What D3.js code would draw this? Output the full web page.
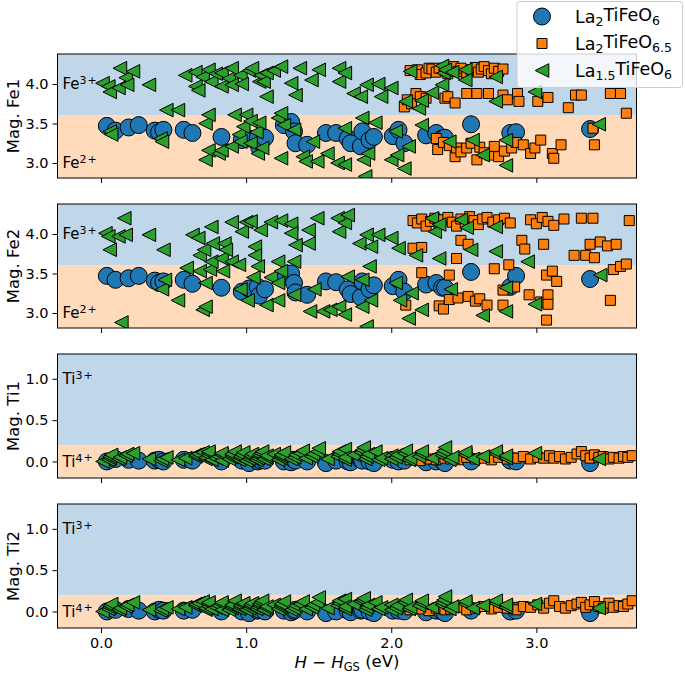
<!DOCTYPE html>
<html>
<head>
<meta charset="utf-8">
<script src="https://cdn.jsdelivr.net/npm/d3@7"></script>
<style>
  body { margin: 0; background: #fff; }
  svg { font-family: "DejaVu Sans", sans-serif; }
</style>
</head>
<body>
<div id="chart"></div>
<script>
// ---- data ----
var blueX = [0.04,0.10,0.19,0.26,0.37,0.40,0.43,0.57,0.63,0.83,0.97,1.02,1.08,1.09,1.13,1.26,1.31,1.33,1.34,1.42,1.55,1.62,1.70,1.72,1.79,1.80,1.85,1.88,2.01,2.05,2.09,2.24,2.31,2.35,2.37,2.55,2.82,2.86,3.37];
var blueFe1 = [3.47,3.41,3.45,3.48,3.41,3.39,3.42,3.42,3.38,3.33,3.29,3.31,3.31,3.20,3.32,3.48,3.52,3.40,3.25,3.23,3.38,3.38,3.31,3.25,3.21,3.40,3.29,3.33,3.34,3.42,3.25,3.35,3.38,3.31,3.32,3.49,3.38,3.39,3.43];
var blueFe2 = [3.47,3.42,3.44,3.47,3.41,3.38,3.40,3.42,3.37,3.32,3.27,3.31,3.33,3.22,3.30,3.46,3.50,3.38,3.26,3.23,3.40,3.39,3.30,3.24,3.20,3.40,3.30,3.35,3.34,3.42,3.27,3.36,3.38,3.32,3.32,3.52,3.33,3.47,3.43];
var blueTi1 = [0.00,0.03,0.02,0.01,0.01,0.02,0.00,0.02,0.01,0.00,0.01,-0.02,0.00,0.02,0.01,0.00,-0.01,0.02,0.01,0.00,-0.02,0.01,0.00,-0.01,0.02,0.01,0.00,-0.02,0.02,0.00,0.01,-0.01,0.00,0.01,-0.02,0.00,0.01,0.00,-0.02];
var blueTi2 = [0.00,0.02,0.03,0.01,0.00,0.02,0.01,0.01,0.02,0.00,0.00,-0.02,0.01,0.02,0.00,0.01,-0.01,0.01,0.02,0.00,-0.02,0.00,0.01,-0.01,0.01,0.02,0.00,-0.02,0.01,0.01,0.00,-0.01,0.01,0.00,-0.02,0.01,0.00,0.01,-0.02];

var orangeFe1X = [2.13,2.18,2.20,2.24,2.26,2.28,2.31,2.33,2.37,2.39,2.41,2.43,2.46,2.48,2.52,2.55,2.58,2.60,2.62,2.64,2.67,2.69,2.71,2.74,2.77,
  2.09,2.11,2.14,2.17,2.20,2.24,2.37,2.39,2.44,2.52,2.59,2.67,2.77,2.80,2.87,2.88,3.01,3.08,3.22,3.27,3.31,3.51,3.58,3.62,
  2.31,2.32,2.36,2.40,2.44,2.45,2.48,2.52,2.55,2.59,2.61,2.64,2.68,2.71,2.74,2.78,2.83,2.86,2.91,2.96,2.99,3.03,3.11,3.12,3.17,3.39,3.40];
var orangeFe1 = [4.17,4.18,4.12,4.14,4.20,4.19,4.15,4.20,4.17,4.13,4.19,4.22,4.16,4.20,4.14,4.18,4.21,4.15,4.19,4.22,4.17,4.13,4.20,4.16,4.19,
  3.71,3.80,3.75,3.88,3.84,3.82,3.82,3.84,3.76,3.88,3.88,3.88,3.86,3.80,3.88,3.78,3.78,3.83,3.70,3.86,3.86,3.88,3.88,3.63,
  3.31,3.17,3.26,3.22,3.08,3.19,3.14,3.19,3.25,3.04,3.20,3.13,3.10,3.21,3.08,3.15,3.19,3.26,3.23,3.12,3.19,3.29,3.12,3.06,3.23,3.44,3.23];
var orangeFe2X = [2.15,2.18,2.21,2.24,2.27,2.30,2.33,2.36,2.39,2.42,2.45,2.48,2.51,2.54,2.57,2.60,2.63,2.66,2.70,2.74,2.78,2.82,2.96,3.00,3.04,3.08,3.12,3.19,3.31,3.39,3.64,
  2.15,2.21,2.45,2.48,2.53,2.71,2.81,2.90,2.92,3.05,3.26,3.34,3.37,3.40,3.44,3.49,3.55,
  2.10,2.21,2.33,2.36,2.40,2.40,2.46,2.53,2.58,2.61,2.66,2.77,2.77,2.85,2.95,3.03,3.07,3.08,3.08,3.11,3.14,3.51,3.53,3.58,3.62,3.07];
var orangeFe2 = [4.17,4.14,4.19,4.10,4.16,4.20,4.13,4.18,4.21,4.15,4.10,4.19,4.14,4.22,4.17,4.12,4.19,4.21,4.15,4.18,4.20,4.14,4.18,4.13,4.21,4.16,4.11,4.19,4.20,4.20,4.17,
  3.82,3.83,3.69,3.92,3.87,3.56,3.61,3.92,3.81,3.87,3.73,3.73,3.87,3.70,3.90,3.85,3.87,
  3.10,3.51,3.09,3.05,3.17,3.48,3.19,3.21,3.15,3.18,3.10,3.29,3.10,3.33,3.23,3.14,3.48,3.23,3.11,3.53,3.40,3.16,3.55,3.59,3.62,2.91];
var orangeTiX = [2.13,2.20,2.26,2.31,2.37,2.41,2.46,2.52,2.58,2.64,2.69,2.74,2.80,2.86,2.91,2.96,3.01,3.05,3.09,3.12,3.16,3.20,3.24,3.28,3.31,3.34,3.37,3.40,3.43,3.46,3.50,3.53,3.57,3.60,3.63,3.66];
var orangeTi1 = [0.02,0.01,0.03,0.02,0.04,0.03,0.02,0.05,0.03,0.04,0.02,0.05,0.03,0.04,0.06,0.03,0.05,0.04,0.07,0.04,0.06,0.03,0.05,0.09,0.12,0.07,0.04,0.08,0.05,0.06,0.03,0.05,0.04,0.06,0.05,0.07];
var orangeTi2 = [0.02,0.03,0.01,0.04,0.02,0.03,0.05,0.02,0.04,0.06,0.03,0.05,0.04,0.02,0.06,0.05,0.08,0.04,0.10,0.13,0.06,0.04,0.07,0.09,0.11,0.05,0.08,0.12,0.06,0.04,0.10,0.05,0.07,0.06,0.09,0.13];

var greenFe1X = [0.01,0.05,0.06,0.06,0.07,0.12,0.13,0.17,0.18,0.22,
  0.33,0.41,0.42,0.45,0.53,0.58,0.65,0.65,0.67,0.70,
  0.72,0.72,0.74,0.74,0.74,0.76,0.79,0.81,0.83,0.83,
  0.83,0.88,0.90,0.90,0.90,0.92,0.95,0.96,0.96,0.97,
  0.98,1.00,1.02,1.03,1.03,1.04,1.07,1.08,1.09,1.09,
  1.10,1.11,1.12,1.14,1.14,1.19,1.22,1.24,1.24,1.24,
  1.26,1.31,1.33,1.34,1.37,1.39,1.41,1.45,1.46,1.49,
  1.50,1.56,1.63,1.64,1.64,1.68,1.68,1.68,1.74,1.79,
  1.80,1.81,1.82,1.83,1.84,1.89,1.91,1.93,2.00,2.00,
  2.03,2.04,2.09,2.10,2.12,2.13,2.19,2.21,2.21,2.28,
  2.35,2.35,2.36,2.37,2.40,2.42,2.51,2.51,2.56,2.63,
  2.72,2.72,2.79,2.79,2.99,3.43];
var greenFe1 = [4.01,3.97,3.90,3.40,3.36,3.95,4.20,4.08,3.99,4.16,
  3.99,3.31,3.27,3.67,3.67,4.11,4.15,3.97,3.92,4.09,
  3.50,3.04,4.18,3.61,3.16,4.03,4.13,3.12,4.14,3.97,
  3.16,4.07,4.20,3.99,3.21,3.61,3.36,4.11,3.27,4.00,
  3.46,3.61,4.17,3.25,3.53,4.20,3.39,3.12,4.03,3.51,
  4.11,3.19,4.03,4.14,3.84,4.17,3.57,4.22,3.63,3.06,
  3.48,4.01,3.42,3.86,4.20,3.08,3.02,4.05,3.27,3.02,
  4.18,3.12,3.00,4.20,4.03,4.14,3.44,2.98,3.88,3.84,
  3.57,3.04,2.83,3.99,3.12,3.51,4.00,3.84,3.95,3.04,
  3.40,3.10,2.93,3.78,3.21,4.16,3.69,3.79,3.48,3.89,
  3.99,4.23,4.14,4.18,3.27,4.15,4.18,4.05,3.29,3.10,
  4.09,3.78,3.29,2.97,3.90,3.49];
var greenFe2X = [0.03,0.05,0.06,0.12,0.14,0.16,0.17,0.33,0.42,0.43,
  0.44,0.53,0.59,0.63,0.67,0.68,0.68,0.70,0.71,0.72,
  0.72,0.75,0.76,0.76,0.77,0.83,0.84,0.85,0.86,0.90,
  0.90,0.95,0.96,0.97,1.00,1.01,1.03,1.05,1.06,1.06,
  1.08,1.10,1.14,1.17,1.17,1.22,1.22,1.22,1.24,1.24,
  1.31,1.31,1.33,1.33,1.34,1.43,1.43,1.44,1.47,1.49,
  1.53,1.58,1.63,1.64,1.64,1.68,1.68,1.70,1.70,1.78,
  1.80,1.80,1.83,1.83,1.85,1.86,1.86,1.91,2.00,2.03,
  2.05,2.06,2.12,2.14,2.17,2.21,2.28,2.30,2.33,2.33,
  2.41,2.48,2.52,2.55,2.63,2.72,2.72,2.79,2.79,2.94,
  2.99,3.44];
var greenFe2 = [4.01,3.97,3.80,3.97,2.88,4.20,3.99,3.99,3.30,3.80,
  3.42,3.16,3.57,3.99,3.95,3.73,3.53,3.04,3.80,3.38,
  3.08,3.55,4.09,3.65,3.88,3.69,3.53,3.88,3.80,4.15,
  3.65,3.61,3.30,4.03,4.15,3.16,4.16,3.45,3.84,3.73,
  3.59,4.05,3.10,4.15,3.45,3.65,3.38,3.16,4.17,3.53,
  4.13,4.01,3.65,3.23,3.86,4.05,3.88,3.02,3.30,4.20,
  3.02,3.04,4.20,4.03,3.08,4.14,2.98,4.24,3.46,3.88,
  3.42,3.08,3.99,2.83,3.59,3.84,3.16,3.99,3.95,3.38,
  3.82,3.16,2.93,3.25,3.73,3.04,4.20,4.03,3.69,4.12,
  3.30,4.18,4.08,3.80,2.97,4.09,3.78,3.32,3.02,3.65,
  3.11,3.48];
var greenTi1 = [0.00,0.02,0.04,0.06,0.08,0.03,0.05,0.07,0.09,0.10,
  0.03,0.01,0.03,0.05,0.02,0.04,0.06,0.08,0.09,0.11,
  0.03,0.05,0.07,0.10,0.12,0.02,0.04,0.06,0.01,0.08,
  0.10,0.03,0.05,0.07,0.09,0.12,0.02,0.04,0.06,0.08,
  0.11,0.01,0.03,0.05,0.07,0.09,0.02,0.04,0.06,0.08,
  0.10,0.12,0.03,0.05,0.07,0.09,0.02,0.04,0.06,0.08,
  0.11,0.03,0.05,0.08,0.10,0.13,0.04,0.06,0.09,0.12,
  0.16,0.03,0.06,0.09,0.12,0.15,0.02,0.05,0.08,0.11,
  0.14,0.17,0.03,0.06,0.09,0.12,0.02,0.04,0.07,0.03,
  0.05,0.08,0.10,0.13,0.02,0.04,0.06,0.09,0.12,0.04,
  0.07,0.10,0.13,0.17,0.02,0.05,0.08,0.11,0.03,0.06,
  0.09,0.12,0.04,0.07,0.10,0.03];
var greenTi2 = [0.00,0.03,0.05,0.07,0.09,0.02,0.04,0.06,0.08,0.11,
  0.02,0.01,0.03,0.05,0.03,0.05,0.07,0.09,0.10,0.12,
  0.02,0.04,0.06,0.09,0.11,0.03,0.05,0.07,0.02,0.09,
  0.11,0.02,0.04,0.06,0.08,0.13,0.03,0.05,0.07,0.09,
  0.10,0.02,0.04,0.06,0.08,0.10,0.03,0.05,0.07,0.09,
  0.11,0.13,0.02,0.04,0.06,0.08,0.03,0.05,0.07,0.09,
  0.12,0.02,0.04,0.07,0.09,0.12,0.03,0.05,0.08,0.11,
  0.17,0.04,0.07,0.10,0.13,0.15,0.03,0.06,0.09,0.12,
  0.14,0.16,0.02,0.05,0.08,0.11,0.03,0.05,0.08,0.02,
  0.04,0.07,0.11,0.14,0.03,0.05,0.07,0.10,0.13,0.05,
  0.08,0.11,0.14,0.18,0.03,0.06,0.09,0.12,0.04,0.07,
  0.10,0.13,0.05,0.08,0.09,0.04];

var xTicks = [0, 1, 2, 3];
var feTicks = [3.0, 3.5, 4.0];
var tiTicks = [0.0, 0.5, 1.0];

// ---- layout ----
var width = 685, height = 675;
var left = 57.5, right = 636.5;
var panelTops = [54, 204, 354, 504];
var panelH = 124;

var colors = { blue: "#1f77b4", orange: "#ff7f0e", green: "#2ca02c" };
var bgBlue = "rgb(192,215,234)", bgOrange = "rgb(255,219,187)";

var x = d3.scaleLinear().domain([-0.3, 3.69]).range([left, right]);
var yFe = d3.scaleLinear().domain([2.81, 4.38]).range([panelH, 0]);
var yTi = d3.scaleLinear().domain([-0.2, 1.3]).range([panelH, 0]);

var svg = d3.select("#chart").append("svg")
    .attr("width", width)
    .attr("height", height);

// marker paths
var circlePath = d3.symbol().type(d3.symbolCircle).size(Math.PI * 8.5 * 8.5)();
var squarePath = "M-5,-5L5,-5L5,5L-5,5Z";
var triPath = "M-6.8,0L6.8,-6.8L6.8,6.8Z";

function zip(xs, ys) {
    return xs.map(function (d, i) { return [d, ys[i]]; })
        .filter(function (d) { return d[1] !== undefined; });
}

var panels = [
    { label: "Mag. Fe1", y: yFe, ticks: feTicks, split: 3.6, hi: "Fe", hiSup: "3+", lo: "Fe", loSup: "2+", hiAt: 4.0, loAt: 3.0,
      blue: zip(blueX, blueFe1), orange: zip(orangeFe1X, orangeFe1), green: zip(greenFe1X, greenFe1) },
    { label: "Mag. Fe2", y: yFe, ticks: feTicks, split: 3.6, hi: "Fe", hiSup: "3+", lo: "Fe", loSup: "2+", hiAt: 4.0, loAt: 3.0,
      blue: zip(blueX, blueFe2), orange: zip(orangeFe2X, orangeFe2), green: zip(greenFe2X, greenFe2) },
    { label: "Mag. Ti1", y: yTi, ticks: tiTicks, split: 0.2, hi: "Ti", hiSup: "3+", lo: "Ti", loSup: "4+", hiAt: 1.0, loAt: 0.0,
      blue: zip(blueX, blueTi1), orange: zip(orangeTiX, orangeTi1), green: zip(greenFe1X, greenTi1) },
    { label: "Mag. Ti2", y: yTi, ticks: tiTicks, split: 0.2, hi: "Ti", hiSup: "3+", lo: "Ti", loSup: "4+", hiAt: 1.0, loAt: 0.0,
      blue: zip(blueX, blueTi2), orange: zip(orangeTiX, orangeTi2), green: zip(greenFe1X, greenTi2) }
];

function ionLabel(g, px, py, base, sup) {
    var t = g.append("text")
        .attr("x", px).attr("y", py)
        .attr("dy", "0.35em")
        .style("font-size", "15px")
        .attr("fill", "#000");
    t.append("tspan").text(base);
    t.append("tspan").attr("dy", "-0.45em").style("font-size", "11px").text(sup.charAt(0));
    t.append("tspan").attr("dx", "1").attr("dy", "-0.05em").style("font-size", "11px").text(sup.charAt(1));
}

panels.forEach(function (p, i) {
    var g = svg.append("g").attr("transform", "translate(0," + panelTops[i] + ")");
    var y = p.y;
    var clipId = "clip" + i;
    g.append("clipPath").attr("id", clipId)
        .append("rect").attr("x", left).attr("y", 0).attr("width", right - left).attr("height", panelH);

    // shaded regions
    g.append("rect").attr("x", left).attr("y", 0)
        .attr("width", right - left).attr("height", y(p.split))
        .attr("fill", bgBlue);
    g.append("rect").attr("x", left).attr("y", y(p.split))
        .attr("width", right - left).attr("height", panelH - y(p.split))
        .attr("fill", bgOrange);

    ionLabel(g, left + 5, y(p.hiAt), p.hi, p.hiSup);
    ionLabel(g, left + 5, y(p.loAt), p.lo, p.loSup);

    var marks = g.append("g").attr("clip-path", "url(#" + clipId + ")");

    marks.selectAll("path.blue").data(p.blue).enter().append("path")
        .attr("class", "blue")
        .attr("d", circlePath)
        .attr("transform", function (d) { return "translate(" + x(d[0]) + "," + y(d[1]) + ")"; })
        .style("fill", colors.blue).style("stroke", "#000").style("stroke-width", 1);

    marks.selectAll("path.orange").data(p.orange).enter().append("path")
        .attr("class", "orange")
        .attr("d", squarePath)
        .attr("transform", function (d) { return "translate(" + x(d[0]) + "," + y(d[1]) + ")"; })
        .style("fill", colors.orange).style("stroke", "#000").style("stroke-width", 1);

    marks.selectAll("path.green").data(p.green).enter().append("path")
        .attr("class", "green")
        .attr("d", triPath)
        .attr("transform", function (d) { return "translate(" + x(d[0]) + "," + y(d[1]) + ")"; })
        .style("fill", colors.green).style("stroke", "#000").style("stroke-width", 1);

    // frame
    g.append("rect").attr("x", left).attr("y", 0)
        .attr("width", right - left).attr("height", panelH)
        .attr("fill", "none").attr("stroke", "#000").attr("stroke-width", 1);

    // axes
    var yAxis = g.append("g").attr("transform", "translate(" + left + ",0)")
        .call(d3.axisLeft(y).tickValues(p.ticks).tickFormat(d3.format(".1f")).tickSize(5).tickPadding(4));
    var xAxis = g.append("g").attr("transform", "translate(0," + panelH + ")")
        .call(d3.axisBottom(x).tickValues(xTicks).tickFormat(i === 3 ? d3.format(".1f") : "").tickSize(5).tickPadding(5));
    [yAxis, xAxis].forEach(function (a) {
        a.select(".domain").remove();
        a.selectAll("text").style("font-size", "14.5px").style("font-family", "DejaVu Sans").attr("fill", "#000");
        a.selectAll("line").attr("stroke", "#000");
    });

    g.append("text")
        .attr("transform", "translate(19," + (panelH / 2) + ") rotate(-90)")
        .attr("text-anchor", "middle")
        .style("font-size", "16.5px")
        .text(p.label);
});

// x label
var xl = svg.append("text")
    .attr("x", (left + right) / 2).attr("y", 668)
    .attr("text-anchor", "middle")
    .style("font-size", "16.5px");
xl.append("tspan").style("font-style", "italic").text("H");
xl.append("tspan").text(" \u2212 ");
xl.append("tspan").style("font-style", "italic").text("H");
xl.append("tspan").attr("dy", "0.3em").style("font-size", "11.5px").text("GS");
xl.append("tspan").attr("dy", "-0.3em").text(" (eV)");

// legend
var legendItems = [
    { marker: circlePath, color: colors.blue, parts: [["La", 0], ["2", 1], ["TiFeO", 0], ["6", 1]] },
    { marker: squarePath, color: colors.orange, parts: [["La", 0], ["2", 1], ["TiFeO", 0], ["6.5", 1]] },
    { marker: triPath, color: colors.green, parts: [["La", 0], ["1.5", 1], ["TiFeO", 0], ["6", 1]] }
];
var lg = svg.append("g");
lg.append("rect").attr("x", 517).attr("y", 1.5).attr("width", 165.5).attr("height", 86)
    .attr("rx", 3).attr("fill", "#fff").attr("fill-opacity", 0.8)
    .attr("stroke", "#ccc").attr("stroke-width", 1);
legendItems.forEach(function (d, i) {
    var cy = 16.5 + i * 27;
    lg.append("path").attr("d", d.marker)
        .attr("transform", "translate(542," + cy + ")")
        .style("fill", d.color).style("stroke", "#000").style("stroke-width", 1);
    var t = lg.append("text").attr("x", 575).attr("y", cy).attr("dy", "0.35em")
        .style("font-size", "17.5px");
    d.parts.forEach(function (p, j) {
        var prev = j > 0 ? d.parts[j - 1][1] : 0;
        var dy = p[1] && !prev ? "0.3em" : (!p[1] && prev ? "-0.3em" : null);
        var ts = t.append("tspan").text(p[0]);
        if (dy) ts.attr("dy", dy);
        if (p[1]) ts.style("font-size", "12.5px");
    });
});
</script>
</body>
</html>
